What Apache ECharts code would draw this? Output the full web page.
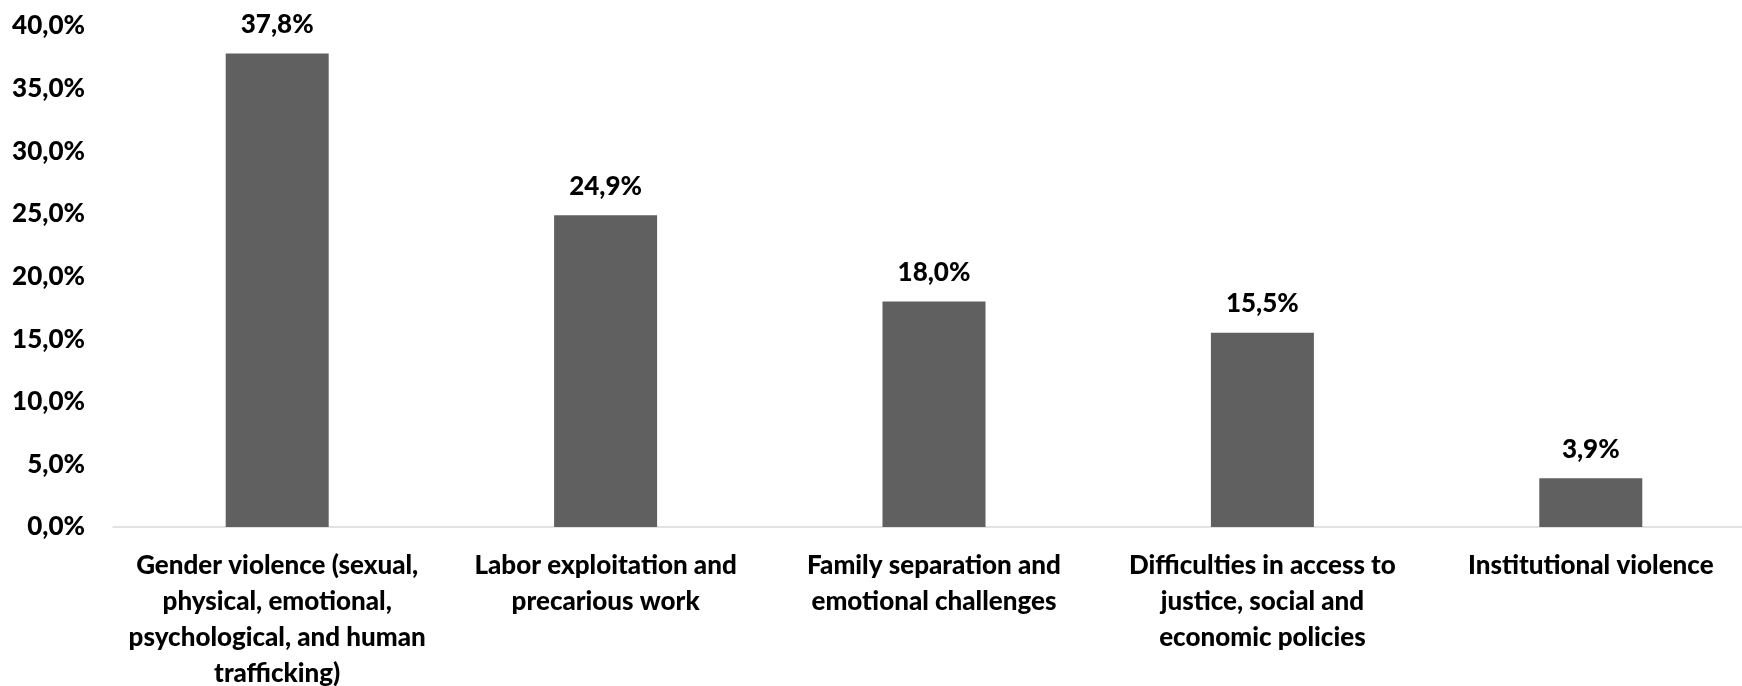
<!DOCTYPE html>
<html>
<head>
<meta charset="utf-8">
<script src="https://cdn.jsdelivr.net/npm/echarts@6/dist/echarts.min.js"></script>
<style>
html,body{margin:0;padding:0;background:#fff;}
#c{width:1742px;height:686px;}
</style>
</head>
<body>
<div id="c"></div>
<script>
const categories = [
  'Gender violence (sexual,\nphysical, emotional,\npsychological, and human\ntrafficking)',
  'Labor exploitation and\nprecarious work',
  'Family separation and\nemotional challenges',
  'Difficulties in access to\njustice, social and\neconomic policies',
  'Institutional violence'
];
const values = [37.8, 24.9, 18.0, 15.5, 3.9];
const yTicks = { min: 0, max: 40, interval: 5 };

const fmt = v => v.toFixed(1).replace('.', ',') + '%';
const FONT = 'Lato';
const FS = 26;
const FW = 900;

const chart = echarts.init(document.getElementById('c'), null, { renderer: 'canvas' });
chart.setOption({
  animation: false,
  grid: { left: 113, width: 1642, top: 26, bottom: 159, containLabel: false, outerBoundsMode: 'none' },
  xAxis: {
    type: 'category',
    data: categories,
    axisLine: { show: true, lineStyle: { color: '#d9d9d9', width: 1.5 } },
    axisTick: { show: false },
    axisLabel: {
      interval: 0,
      margin: 21,
      color: '#000',
      fontFamily: FONT,
      fontWeight: FW,
      fontSize: FS,
      lineHeight: 36,
      align: 'center'
    }
  },
  yAxis: {
    type: 'value',
    min: yTicks.min,
    max: yTicks.max,
    interval: yTicks.interval,
    splitLine: { show: false },
    axisLine: { show: false },
    axisTick: { show: false },
    axisLabel: {
      formatter: v => fmt(v),
      margin: 28,
      color: '#000',
      fontFamily: FONT,
      fontWeight: FW,
      fontSize: FS
    }
  },
  series: [{
    type: 'bar',
    data: values,
    barWidth: 103,
    itemStyle: { color: '#606060' },
    label: {
      show: true,
      position: 'top',
      distance: 16,
      formatter: p => fmt(p.value),
      color: '#000',
      fontFamily: FONT,
      fontWeight: FW,
      fontSize: FS
    }
  }]
});
</script>
</body>
</html>
